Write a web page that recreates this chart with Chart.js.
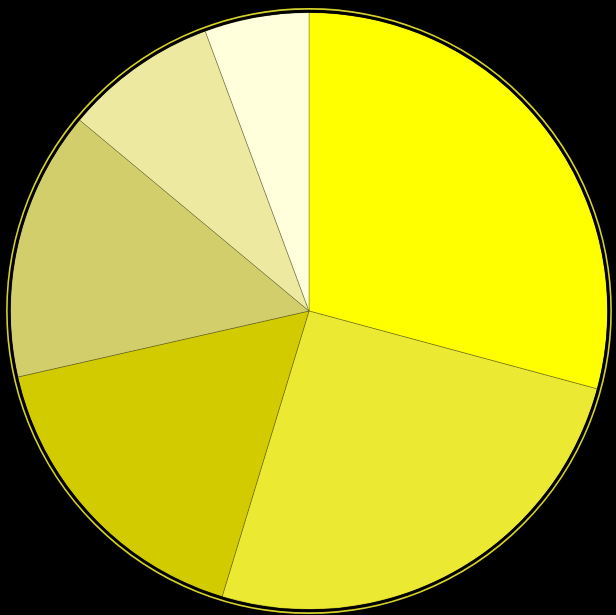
<!DOCTYPE html>
<html>
<head>
<meta charset="utf-8">
<script src="https://cdn.jsdelivr.net/npm/chart.js@4"></script>
<style>
  html, body { margin: 0; padding: 0; background: #000; }
  #wrap { width: 616px; height: 615px; }
</style>
</head>
<body>
<div id="wrap"><canvas id="pie"></canvas></div>
<script>
// slices clockwise from 12 o'clock
const labels = ["A", "B", "C", "D", "E", "F"];
const values = [29.2, 25.5, 16.75, 14.6, 8.3, 5.65];
const colours = ["#ffff00", "#ece933", "#d2cb00", "#d3ce6c", "#ede9a1", "#ffffdc"];

// outer black edge + thin yellow ring around the pie
const ringPlugin = {
  id: "ring",
  afterDatasetsDraw(chart) {
    const arc = chart.getDatasetMeta(0).data[0];
    if (!arc) return;
    const { x, y, outerRadius } = arc.getProps(["x", "y", "outerRadius"], true);
    const ctx = chart.ctx;
    ctx.save();
    ctx.beginPath();
    ctx.arc(x, y, outerRadius + 1, 0, Math.PI * 2);
    ctx.strokeStyle = "#000";
    ctx.lineWidth = 2.5;
    ctx.stroke();
    ctx.beginPath();
    ctx.arc(x, y, outerRadius + 3.5, 0, Math.PI * 2);
    ctx.strokeStyle = "#d6d22a";
    ctx.lineWidth = 1.6;
    ctx.stroke();
    ctx.restore();
  },
};

new Chart(document.getElementById("pie"), {
  type: "pie",
  data: {
    labels,
    datasets: [{
      data: values,
      backgroundColor: colours,
      borderColor: "rgba(60,60,20,0.4)",
      borderWidth: 0.8,
    }],
  },
  options: {
    responsive: true,
    maintainAspectRatio: false,
    animation: false,
    layout: { padding: { top: 12, bottom: 5, left: 10, right: 8 } },
    plugins: { legend: { display: false }, tooltip: { enabled: false } },
  },
  plugins: [ringPlugin],
});
</script>
</body>
</html>
